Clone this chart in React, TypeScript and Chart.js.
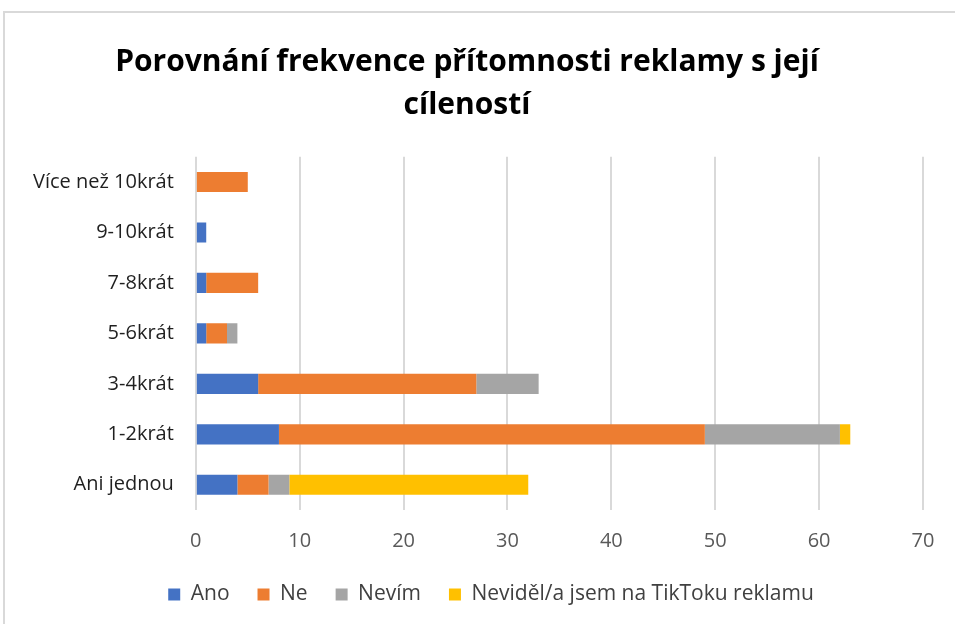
import React, { useEffect, useRef } from "react";
import { Chart, registerables } from "chart.js";

Chart.register(...registerables);

const categories = ["Ani jednou", "1-2krát", "3-4krát", "5-6krát", "7-8krát", "9-10krát", "Více než 10krát"];
const ano = [4, 8, 6, 1, 1, 1, 0];
const ne = [3, 41, 21, 2, 5, 0, 5];
const nevim = [2, 13, 6, 1, 0, 0, 0];
const nevidel = [23, 1, 0, 0, 0, 0, 0];
const xTicksMax = 70;

const legendShift = {
  id: "legendShift",
  afterLayout(chart: any) {
    if (chart.legend) {
      chart.legend.left += 24;
      chart.legend.right += 24;
    }
  },
};

export default function App() {
  const ref = useRef<HTMLCanvasElement>(null);
  useEffect(() => {
    const font = "'Open Sans', Lato, sans-serif";
    const chart = new Chart(ref.current!, {
      type: "bar",
      data: {
        labels: categories,
        datasets: [
          { label: "Ano", data: ano, backgroundColor: "#4472C4" },
          { label: "Ne", data: ne, backgroundColor: "#ED7D31" },
          { label: "Nevím", data: nevim, backgroundColor: "#A5A5A5" },
          { label: "Neviděl/a jsem na TikToku reklamu", data: nevidel, backgroundColor: "#FFC000" },
        ],
      },
      plugins: [legendShift],
      options: {
        indexAxis: "y",
        animation: false,
        responsive: false,
        maintainAspectRatio: false,
        datasets: { bar: { barPercentage: 0.4, categoryPercentage: 1 } },
        layout: { padding: { left: 6, right: 34, top: 16, bottom: 8 } },
        plugins: {
          title: {
            display: true,
            text: ["Porovnání frekvence přítomnosti reklamy s její", "cíleností"],
            font: { family: font, size: 30, weight: "bold", lineHeight: 1.43 },
            color: "#000000",
            padding: { top: 0, bottom: 30 },
          },
          legend: {
            position: "bottom",
            labels: {
              font: { family: font, size: 21 },
              color: "#404040",
              boxWidth: 12,
              boxHeight: 12,
              padding: 28,
            },
          },
          tooltip: { enabled: false },
        },
        scales: {
          x: {
            stacked: true,
            min: 0,
            max: xTicksMax,
            ticks: { stepSize: 10, font: { family: font, size: 20 }, color: "#595959", padding: 19 },
            grid: { color: "#d9d9d9", lineWidth: 2, drawTicks: false },
            border: { display: false },
            afterFit: (scale: any) => {
              scale.height -= 16;
            },
          },
          y: {
            stacked: true,
            reverse: true,
            ticks: { font: { family: font, size: 20 }, color: "#1f1f1f", padding: 22 },
            grid: { display: false, drawTicks: false },
            border: { display: false },
          },
        },
      },
    });
    return () => chart.destroy();
  }, []);
  return (
    <div
      style={{
        position: "fixed",
        left: 3,
        top: 11,
        width: 960,
        height: 620,
        border: "2px solid #d9d9d9",
        background: "#fff",
        boxSizing: "border-box",
      }}
    >
      <div style={{ position: "absolute", left: 0, top: 12 }}>
        <canvas ref={ref} width={952} height={598} />
      </div>
    </div>
  );
}
